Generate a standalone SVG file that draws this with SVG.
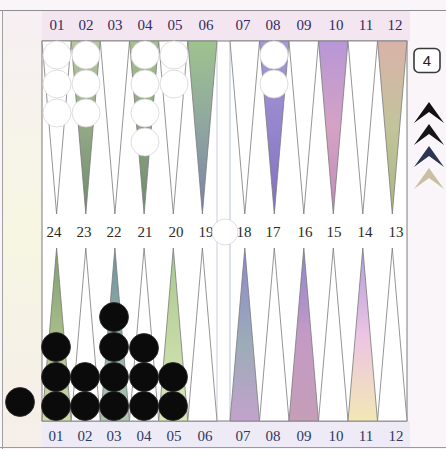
<svg xmlns="http://www.w3.org/2000/svg" width="446" height="449" viewBox="0 0 446 449">
<defs>
<style>
.lbl{font-family:"Liberation Serif","DejaVu Serif",serif;font-size:15px;text-anchor:middle}
.top{fill:#332a5e}
.mid{fill:#2a2a2a}
.bot{fill:#2d3864}
.pt{stroke:#7a7a7a;stroke-width:0.8;stroke-linejoin:miter}
.w{fill:#ffffff}
.wc{fill:#ffffff;stroke:#d4d4d4;stroke-width:0.8}
.bc{fill:#0b0b0b;stroke:#2a2a2a;stroke-width:0.8}
</style>
<linearGradient id="gLeft" x1="0" y1="0" x2="0" y2="1">
<stop offset="0" stop-color="#f7eff3"/><stop offset="0.5" stop-color="#f6f6e2"/><stop offset="1" stop-color="#f6eeea"/>
</linearGradient>
<linearGradient id="g02" x1="0" y1="0" x2="0" y2="1"><stop offset="0" stop-color="#b8c8a0"/><stop offset="1" stop-color="#6f8a6c"/></linearGradient>
<linearGradient id="g04" x1="0" y1="0" x2="0" y2="1"><stop offset="0" stop-color="#a8c090"/><stop offset="1" stop-color="#6f8a70"/></linearGradient>
<linearGradient id="g06" x1="0" y1="0" x2="0" y2="1"><stop offset="0" stop-color="#9ec38e"/><stop offset="0.5" stop-color="#8fa6a0"/><stop offset="1" stop-color="#7a80a8"/></linearGradient>
<linearGradient id="g08" x1="0" y1="0" x2="0" y2="1"><stop offset="0" stop-color="#a79ad8"/><stop offset="1" stop-color="#8270c0"/></linearGradient>
<linearGradient id="g10" x1="0" y1="0" x2="0" y2="1"><stop offset="0" stop-color="#b797d6"/><stop offset="0.5" stop-color="#d5a2c4"/><stop offset="1" stop-color="#c08ab8"/></linearGradient>
<linearGradient id="g12" x1="0" y1="0" x2="0" y2="1"><stop offset="0" stop-color="#d9b2aa"/><stop offset="0.5" stop-color="#c2c49a"/><stop offset="1" stop-color="#a8b880"/></linearGradient>
<linearGradient id="g24" x1="0" y1="0" x2="0" y2="1"><stop offset="0" stop-color="#809e6e"/><stop offset="1" stop-color="#cddca4"/></linearGradient>
<linearGradient id="g22" x1="0" y1="0" x2="0" y2="1"><stop offset="0" stop-color="#6f92a0"/><stop offset="1" stop-color="#b0c8b0"/></linearGradient>
<linearGradient id="g20" x1="0" y1="0" x2="0" y2="1"><stop offset="0" stop-color="#a8c890"/><stop offset="1" stop-color="#dbe8b6"/></linearGradient>
<linearGradient id="g18" x1="0" y1="0" x2="0" y2="1"><stop offset="0" stop-color="#8e86cc"/><stop offset="0.55" stop-color="#9cacb8"/><stop offset="1" stop-color="#c3a2cc"/></linearGradient>
<linearGradient id="g16" x1="0" y1="0" x2="0" y2="1"><stop offset="0" stop-color="#8a86cc"/><stop offset="0.5" stop-color="#c49ac6"/><stop offset="1" stop-color="#c59eb8"/></linearGradient>
<linearGradient id="g14" x1="0" y1="0" x2="0" y2="1"><stop offset="0" stop-color="#b09ed8"/><stop offset="0.5" stop-color="#ecc4e4"/><stop offset="1" stop-color="#f2e8b4"/></linearGradient>
</defs>

<g id="background">
<rect x="0" y="0" width="446" height="449" fill="#faf5f9"/>
<rect x="3" y="11" width="39" height="436" fill="url(#gLeft)"/>
<rect x="42" y="11" width="368" height="30" fill="#f3e6f1"/>
<rect x="42" y="421" width="368" height="26" fill="#eeebf6"/>
<line x1="0" y1="10.5" x2="446" y2="10.5" stroke="#8e8e8e" stroke-width="1"/>
<line x1="2.5" y1="10" x2="2.5" y2="449" stroke="#a0a0a0" stroke-width="1"/>
<line x1="0" y1="447.5" x2="446" y2="447.5" stroke="#9a9a9a" stroke-width="1"/>
</g>

<g id="board">
<rect x="42" y="41" width="365" height="380" fill="#ffffff" stroke="#7c7c7c" stroke-width="1"/>
<line x1="217" y1="41" x2="217" y2="421" stroke="#c8d0dc" stroke-width="1"/>
<line x1="230" y1="41" x2="230" y2="421" stroke="#b8c4d4" stroke-width="1"/>
</g>

<g id="points-top">
<polygon class="pt w" points="42,41 71.2,41 56.6,214"/>
<polygon class="pt" fill="url(#g02)" points="71.2,41 100.3,41 85.8,214"/>
<polygon class="pt w" points="100.3,41 129.5,41 114.9,214"/>
<polygon class="pt" fill="url(#g04)" points="129.5,41 158.7,41 144.1,214"/>
<polygon class="pt w" points="158.7,41 187.8,41 173.3,214"/>
<polygon class="pt" fill="url(#g06)" points="187.8,41 217,41 202.4,214"/>
<polygon class="pt w" points="230,41 259.5,41 244.8,214"/>
<polygon class="pt" fill="url(#g08)" points="259.5,41 289,41 274.3,214"/>
<polygon class="pt w" points="289,41 318.5,41 303.8,214"/>
<polygon class="pt" fill="url(#g10)" points="318.5,41 348,41 333.3,214"/>
<polygon class="pt w" points="348,41 377.5,41 362.8,214"/>
<polygon class="pt" fill="url(#g12)" points="377.5,41 407,41 392.3,214"/>
</g>

<g id="points-bottom">
<polygon class="pt" fill="url(#g24)" points="42,421 71.2,421 56.6,248"/>
<polygon class="pt w" points="71.2,421 100.3,421 85.8,248"/>
<polygon class="pt" fill="url(#g22)" points="100.3,421 129.5,421 114.9,248"/>
<polygon class="pt w" points="129.5,421 158.7,421 144.1,248"/>
<polygon class="pt" fill="url(#g20)" points="158.7,421 187.8,421 173.3,248"/>
<polygon class="pt w" points="187.8,421 217,421 202.4,248"/>
<polygon class="pt" fill="url(#g18)" points="230,421 259.5,421 244.8,248"/>
<polygon class="pt w" points="259.5,421 289,421 274.3,248"/>
<polygon class="pt" fill="url(#g16)" points="289,421 318.5,421 303.8,248"/>
<polygon class="pt w" points="318.5,421 348,421 333.3,248"/>
<polygon class="pt" fill="url(#g14)" points="348,421 377.5,421 362.8,248"/>
<polygon class="pt w" points="377.5,421 407,421 392.3,248"/>
</g>

<g id="labels-top" class="lbl top">
<text x="57" y="30">01</text><text x="86" y="30">02</text><text x="115" y="30">03</text>
<text x="145" y="30">04</text><text x="175" y="30">05</text><text x="206" y="30">06</text>
<text x="243" y="30">07</text><text x="273" y="30">08</text><text x="304" y="30">09</text>
<text x="336" y="30">10</text><text x="366" y="30">11</text><text x="395" y="30">12</text>
</g>

<g id="labels-mid" class="lbl mid">
<text x="54" y="237">24</text><text x="84" y="237">23</text><text x="114" y="237">22</text>
<text x="145" y="237">21</text><text x="176" y="237">20</text><text x="206" y="237">19</text>
<text x="244" y="237">18</text><text x="273" y="237">17</text><text x="305" y="237">16</text>
<text x="334" y="237">15</text><text x="365" y="237">14</text><text x="396" y="237">13</text>
</g>

<g id="labels-bottom" class="lbl bot">
<text x="56" y="441">01</text><text x="85" y="441">02</text><text x="114" y="441">03</text>
<text x="144" y="441">04</text><text x="174" y="441">05</text><text x="205" y="441">06</text>
<text x="243" y="441">07</text><text x="273" y="441">08</text><text x="304" y="441">09</text>
<text x="336" y="441">10</text><text x="366" y="441">11</text><text x="396" y="441">12</text>
</g>

<g id="white-checkers">
<circle class="wc" cx="57" cy="55" r="14"/><circle class="wc" cx="57" cy="84" r="14"/><circle class="wc" cx="57" cy="113" r="14"/>
<circle class="wc" cx="86" cy="55" r="14"/><circle class="wc" cx="86" cy="84" r="14"/><circle class="wc" cx="86" cy="113" r="14"/>
<circle class="wc" cx="145" cy="55" r="14"/><circle class="wc" cx="145" cy="84" r="14"/><circle class="wc" cx="145" cy="113" r="14"/><circle class="wc" cx="145" cy="142" r="14"/>
<circle class="wc" cx="174" cy="55" r="14"/><circle class="wc" cx="174" cy="84" r="14"/>
<circle class="wc" cx="274" cy="55" r="14"/><circle class="wc" cx="274" cy="84" r="14"/>
<circle class="wc" cx="225" cy="232" r="13"/>
</g>

<g id="black-checkers">
<circle class="bc" cx="56" cy="406" r="14.5"/><circle class="bc" cx="56" cy="377" r="14.5"/><circle class="bc" cx="56" cy="347" r="14.5"/>
<circle class="bc" cx="85" cy="406" r="14.5"/><circle class="bc" cx="85" cy="377" r="14.5"/>
<circle class="bc" cx="114" cy="406" r="14.5"/><circle class="bc" cx="114" cy="377" r="14.5"/><circle class="bc" cx="114" cy="347" r="14.5"/><circle class="bc" cx="114" cy="317" r="14.5"/>
<circle class="bc" cx="144" cy="406" r="14.5"/><circle class="bc" cx="144" cy="377" r="14.5"/><circle class="bc" cx="144" cy="348" r="14.5"/>
<circle class="bc" cx="173" cy="406" r="14.5"/><circle class="bc" cx="173" cy="377" r="14.5"/>
<circle class="bc" cx="20" cy="402" r="14.5"/>
</g>

<g id="cube">
<rect x="414" y="48.5" width="26" height="24" rx="5" fill="#ffffff" stroke="#3a3a3a" stroke-width="1.6"/>
<text x="427" y="66" style="font-family:'Liberation Sans','DejaVu Sans',sans-serif;font-size:15px;text-anchor:middle" fill="#222">4</text>
</g>

<g id="chevrons">
<polygon points="429,102 444,123 429,112 414,123" fill="#111111"/>
<polygon points="429,124 444,145 429,134 414,145" fill="#161616"/>
<polygon points="429,146 444,167 429,156 414,167" fill="#2b3554"/>
<polygon points="429,168 444,189 429,178 414,189" fill="#cbbfa2"/>
</g>
</svg>
